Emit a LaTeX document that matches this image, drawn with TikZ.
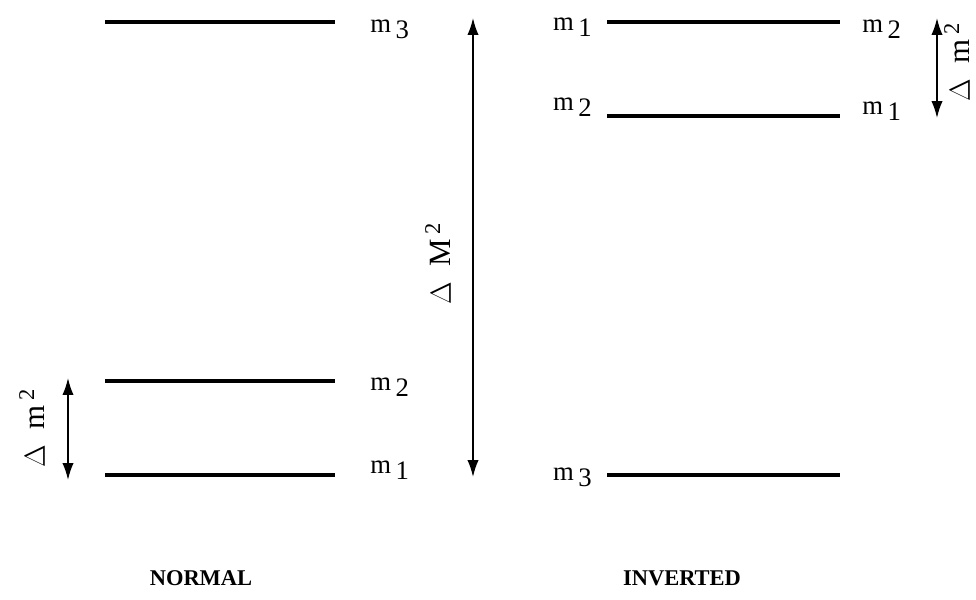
\documentclass[tikz,border=0pt]{standalone}
\usepackage{fontspec}
\setmainfont{Liberation Serif}
\usetikzlibrary{arrows.meta}

\newcommand{\mass}[1]{m\,\raisebox{-0.55ex}{#1}}
\newcommand{\dsq}[1]{$\Delta$\enspace#1\,\raisebox{0.75ex}{\fontsize{16}{16}\selectfont 2}}

\begin{document}
\begin{tikzpicture}[
    x=0.025cm, y=-0.025cm,
    level/.style={line width=2.2pt},
    gap/.style={
        line width=1.2pt,
        {Latex[length=12pt,width=8pt]}-{Latex[length=12pt,width=8pt]}
    },
    mlabel/.style={font=\fontsize{19}{20}\selectfont, inner sep=0pt},
    dlabel/.style={font=\fontsize{22}{24}\selectfont, rotate=90, inner sep=0pt},
    title/.style={font=\fontsize{16}{18}\selectfont\bfseries, inner sep=0pt}
]
\useasboundingbox (0,0) rectangle (976,600);

% normal ordering
\coordinate (n3a) at (105,22);  \coordinate (n3b) at (335,22);
\coordinate (n2a) at (105,381); \coordinate (n2b) at (335,381);
\coordinate (n1a) at (105,475); \coordinate (n1b) at (335,475);

\draw[level] (n3a) -- (n3b);
\draw[level] (n2a) -- (n2b);
\draw[level] (n1a) -- (n1b);

\node[mlabel, anchor=base west] (ln3) at (370,32)  {\mass{3}};
\node[mlabel, anchor=base west] (ln2) at (370,390) {\mass{2}};
\node[mlabel, anchor=base west] (ln1) at (370,473) {\mass{1}};

\coordinate (sa) at (68,378);
\coordinate (sb) at (68,480);
\draw[gap] (sa) -- (sb);
\node[dlabel] (lsa) at (32,428) {\dsq{m}};

% large splitting
\coordinate (ba) at (473,18);
\coordinate (bb) at (473,477);
\draw[gap] (ba) -- (bb);
\node[dlabel] (lba) at (438,264) {\dsq{M}};

% inverted ordering
\coordinate (i1a) at (607,22);  \coordinate (i1b) at (840,22);
\coordinate (i2a) at (607,116); \coordinate (i2b) at (840,116);
\coordinate (i3a) at (607,475); \coordinate (i3b) at (840,475);

\draw[level] (i1a) -- (i1b);
\draw[level] (i2a) -- (i2b);
\draw[level] (i3a) -- (i3b);

\node[mlabel, anchor=base east] (li1) at (592,30)  {\mass{1}};
\node[mlabel, anchor=base west] (li2r) at (862,32) {\mass{2}};
\node[mlabel, anchor=base east] (li2) at (592,110) {\mass{2}};
\node[mlabel, anchor=base west] (li1r) at (862,114) {\mass{1}};
\node[mlabel, anchor=base east] (li3) at (592,480) {\mass{3}};

\coordinate (ra) at (937,18);
\coordinate (rb) at (937,118);
\draw[gap] (ra) -- (rb);
\node[dlabel] (lra) at (957,62) {\dsq{m}};

% titles
\node[title] (tn) at (201,578) {NORMAL};
\node[title] (ti) at (682,578) {INVERTED};

\end{tikzpicture}
\end{document}
